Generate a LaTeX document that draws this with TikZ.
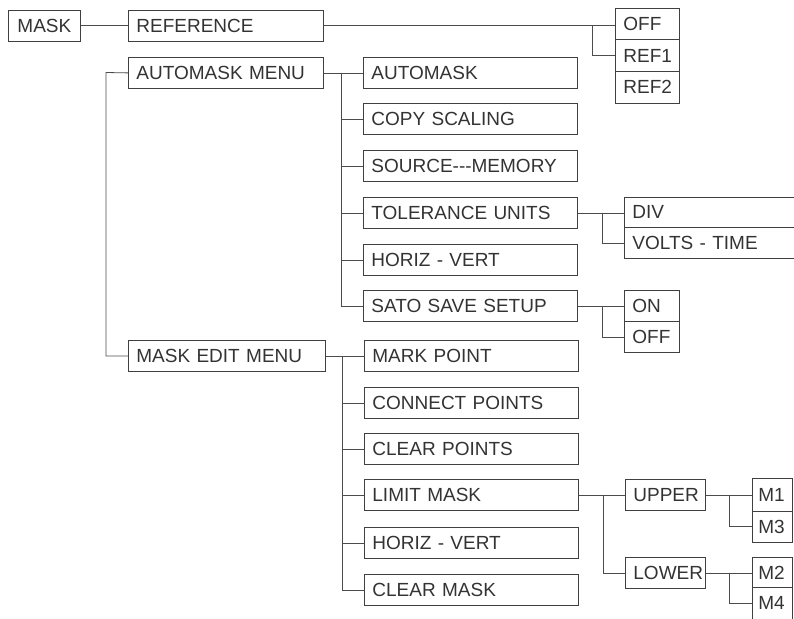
\documentclass[tikz,border=0pt]{standalone}
\usepackage{fontspec}
\setmainfont{Liberation Sans}
\usetikzlibrary{calc}
\tikzset{
  bx/.style={draw=black!75, line width=0.8pt, rectangle, anchor=north west,
    inner xsep=8pt, inner ysep=0pt, align=left, text=black!80,
    font=\fontsize{19}{21}\selectfont},
  ln/.style={draw=black!70, line width=0.8pt}
}
\newcommand{\bxn}[6]{\node[bx, text width=#4pt-16pt, minimum height=#5pt] (#1) at (#2,#3) {#6};}
\begin{document}
\begin{tikzpicture}[x=1pt,y=-1pt]
\useasboundingbox (0,0) rectangle (794,618);
\clip (0,0) rectangle (794,618);
% level 0 and 1
\node[bx, text width=56pt, minimum height=31pt, inner xsep=8pt, align=center] (mask) at (8,10) {MASK};
\bxn{ref}{128}{10}{195}{31}{REFERENCE}
\bxn{amm}{128}{57}{195}{31}{AUTOMASK MENU}
\bxn{med}{128}{340}{197}{31}{MASK EDIT MENU}
% automask submenu
\bxn{am1}{363}{57}{214}{31}{AUTOMASK}
\bxn{am2}{363}{103}{214}{31}{COPY SCALING}
\bxn{am3}{363}{150}{214}{31}{SOURCE-{}-{}-MEMORY}
\bxn{am4}{363}{197}{214}{31}{TOLERANCE UNITS}
\bxn{am5}{363}{244}{214}{31}{HORIZ - VERT}
\bxn{am6}{363}{290}{214}{31}{SATO SAVE SETUP}
% mask edit submenu
\bxn{me1}{364}{340}{214}{31}{MARK POINT}
\bxn{me2}{364}{387}{214}{31}{CONNECT POINTS}
\bxn{me3}{364}{433}{214}{31}{CLEAR POINTS}
\bxn{me4}{364}{479}{214}{31}{LIMIT MASK}
\bxn{me5}{364}{527}{214}{31}{HORIZ - VERT}
\bxn{me6}{364}{574}{214}{31}{CLEAR MASK}
% reference options
\bxn{roff}{615}{8}{64}{31.5}{OFF}
\bxn{rone}{615}{39.5}{64}{31.5}{REF1}
\bxn{rtwo}{615}{71}{64}{31.5}{REF2}
% tolerance options
\bxn{div}{624}{197}{180}{30}{DIV}
\bxn{volts}{624}{227}{180}{31}{VOLTS - TIME}
% sato options
\bxn{son}{624}{290}{55}{31}{ON}
\bxn{soff}{624}{321}{55}{31}{OFF}
% limit options
\bxn{upper}{625}{479}{80}{31}{UPPER}
\bxn{lower}{625}{557}{80}{31}{LOWER}
\tikzset{bx/.append style={inner xsep=6pt}}
\node[bx, text width=28pt, minimum height=32.5pt] (mone) at (752,478) {M1};
\node[bx, text width=28pt, minimum height=31.5pt] (mthree) at (752,510.5) {M3};
\node[bx, text width=28pt, minimum height=30pt] (mtwo) at (752,557) {M2};
\node[bx, text width=28pt, minimum height=32pt] (mfour) at (752,587) {M4};
% connectors
\draw[ln] (mask.east) -- (ref.west);
\coordinate (tm) at (106,72.5);
\draw[ln] (amm.west) -- (tm) |- (med.west);
\draw[ln] (ref.east) -- (ref.east -| roff.west);
\coordinate (br) at (592,25.5);
\draw[ln] (br) |- (rone.west);
% automask trunk
\draw[ln] (amm.east) -- (am1.west);
\coordinate (ta) at (341,72.5);
\draw[ln] (ta) |- (am6.west);
\foreach \n in {am2,am3,am4,am5} \draw[ln] (ta |- \n.west) -- (\n.west);
% mask edit trunk
\draw[ln] (med.east) -- (me1.west);
\coordinate (te) at (342,355.5);
\draw[ln] (te) |- (me6.west);
\foreach \n in {me2,me3,me4,me5} \draw[ln] (te |- \n.west) -- (\n.west);
% tolerance
\draw[ln] (am4.east) -- (am4.east -| div.west);
\coordinate (bt) at (602,212.5);
\draw[ln] (bt) |- (volts.west);
% sato
\draw[ln] (am6.east) -- (son.west);
\coordinate (bs) at (602,305.5);
\draw[ln] (bs) |- (soff.west);
% limit mask
\draw[ln] (me4.east) -- (upper.west);
\coordinate (bl) at (603,494.5);
\draw[ln] (bl) |- (lower.west);
% upper / lower
\draw[ln] (upper.east) -- (upper.east -| mone.west);
\coordinate (bu) at (729,494.5);
\draw[ln] (bu) |- (mthree.west);
\draw[ln] (lower.east) -- (lower.east -| mtwo.west);
\coordinate (bw) at (729,572.5);
\draw[ln] (bw) |- (mfour.west);
\end{tikzpicture}
\end{document}
